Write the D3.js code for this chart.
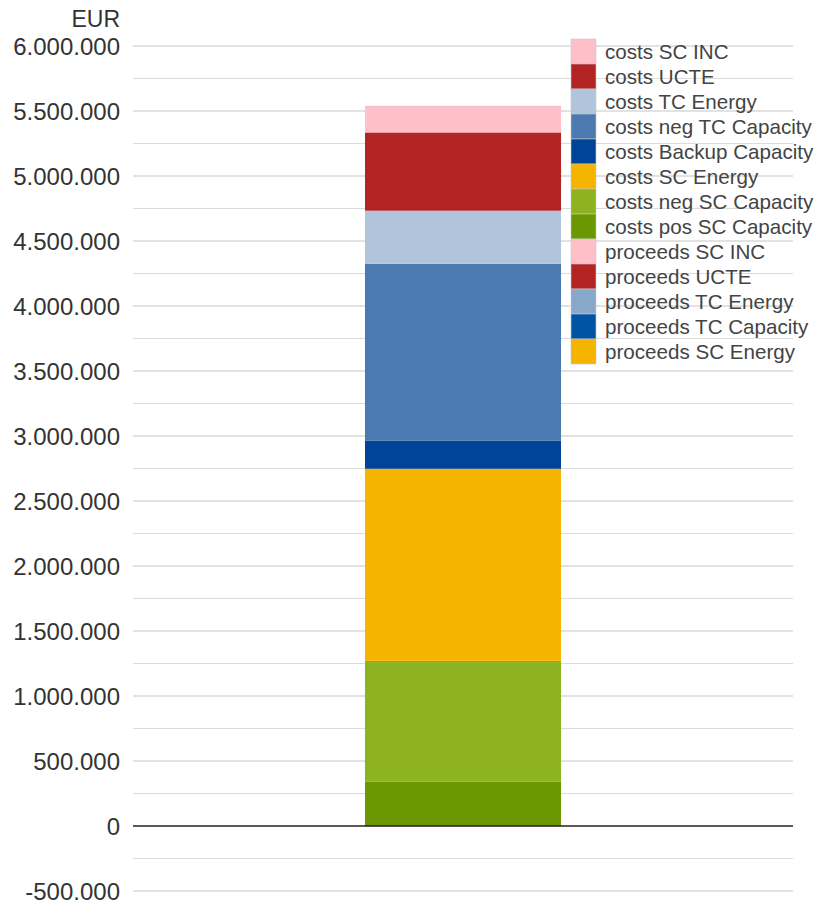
<!DOCTYPE html>
<html><head><meta charset="utf-8">
<script src="https://cdn.jsdelivr.net/npm/d3@7"></script>
<style>body{margin:0;background:#fff}svg{display:block;font-family:"Liberation Sans",Arial,sans-serif}</style>
</head><body><svg id="c" width="820" height="904"></svg>
<script>
const categories = [""];
const seriesNames = ["costs pos SC Capacity","costs neg SC Capacity","costs SC Energy","costs Backup Capacity","costs neg TC Capacity","costs TC Energy","costs UCTE","costs SC INC","proceeds SC Energy","proceeds TC Capacity","proceeds TC Energy","proceeds UCTE","proceeds SC INC"];
const seriesValues = [340000, 930000, 1478000, 215000, 1362000, 408000, 602000, 205000, 0, 0, 0, 0, -5000];
const seriesColors = ["#6b9700","#8db321","#f5b400","#00449a","#4b7ab0","#b0c4dc","#b22424","#ffbfc8","#f5b400","#0054a4","#88a8cb","#b22424","#ffbfc8"];
const legendOrder = ["costs SC INC","costs UCTE","costs TC Energy","costs neg TC Capacity","costs Backup Capacity","costs SC Energy","costs neg SC Capacity","costs pos SC Capacity","proceeds SC INC","proceeds UCTE","proceeds TC Energy","proceeds TC Capacity","proceeds SC Energy"];
const majorTicks = [-500000,0,500000,1000000,1500000,2000000,2500000,3000000,3500000,4000000,4500000,5000000,5500000,6000000];
const minorTicks = [-250000,250000,750000,1250000,1750000,2250000,2750000,3250000,3750000,4250000,4750000,5250000,5750000];
const yUnit = "EUR";

const svg = d3.select("#c");
const x0 = 133, x1 = 793;
const y = d3.scaleLinear().domain([-500000, 6000000]).range([891, 46]);
const x = d3.scaleBand().domain(categories).range([x0, x1]).paddingInner(0.542).paddingOuter(0.542);
const fmt = v => d3.format(",")(v).replace(/,/g, ".").replace("\u2212", "-");

// grid
svg.append("g").selectAll("line").data(minorTicks).join("line")
  .attr("x1", x0).attr("x2", x1).attr("y1", d => y(d)).attr("y2", d => y(d))
  .attr("stroke", "#dcdcdc").attr("stroke-width", 1.2);
svg.append("g").selectAll("line").data(majorTicks.filter(d => d !== 0)).join("line")
  .attr("x1", x0).attr("x2", x1).attr("y1", d => y(d)).attr("y2", d => y(d))
  .attr("stroke", "#d9d9d9").attr("stroke-width", 1.6);

// axis labels
svg.append("g").selectAll("text").data(majorTicks).join("text")
  .attr("x", 120).attr("y", d => y(d)).attr("dy", "0.36em")
  .attr("text-anchor", "end").attr("font-size", 24).attr("fill", "#333")
  .text(fmt);
svg.append("text").attr("x", 120).attr("y", 27).attr("text-anchor", "end")
  .attr("font-size", 23).attr("fill", "#333").text(yUnit);

// stacked bars (positive up, negative down)
let pos = 0, neg = 0;
const segs = seriesValues.map((v, i) => {
  let a, b;
  if (v >= 0) { a = pos; b = pos + v; pos = b; } else { a = neg; b = neg + v; neg = b; }
  return {name: seriesNames[i], a, b, color: seriesColors[i]};
}).filter(s => s.a !== s.b);
svg.append("g").selectAll("rect").data(segs).join("rect")
  .attr("x", x(categories[0])).attr("width", x.bandwidth())
  .attr("y", d => y(Math.max(d.a, d.b))).attr("height", d => Math.abs(y(d.a) - y(d.b)))
  .attr("fill", d => d.color);

// zero line
svg.append("line").attr("x1", x0).attr("x2", x1).attr("y1", y(0)).attr("y2", y(0))
  .attr("stroke", "#222").attr("stroke-width", 1.3);

// legend
const lg = svg.append("g").attr("transform", "translate(571,39)");
const rows = lg.selectAll("g").data(legendOrder).join("g")
  .attr("transform", (d, i) => `translate(0,${i * 25})`);
rows.append("rect").attr("width", 25).attr("height", 25)
  .attr("fill", d => seriesColors[seriesNames.indexOf(d)])
  .attr("stroke", "#c8c8c8").attr("stroke-width", 0.6);
rows.append("text").attr("x", 34).attr("y", 12.5).attr("dy", "0.36em")
  .attr("font-size", 20.6).attr("fill", "#444").text(d => d);
</script></body></html>
